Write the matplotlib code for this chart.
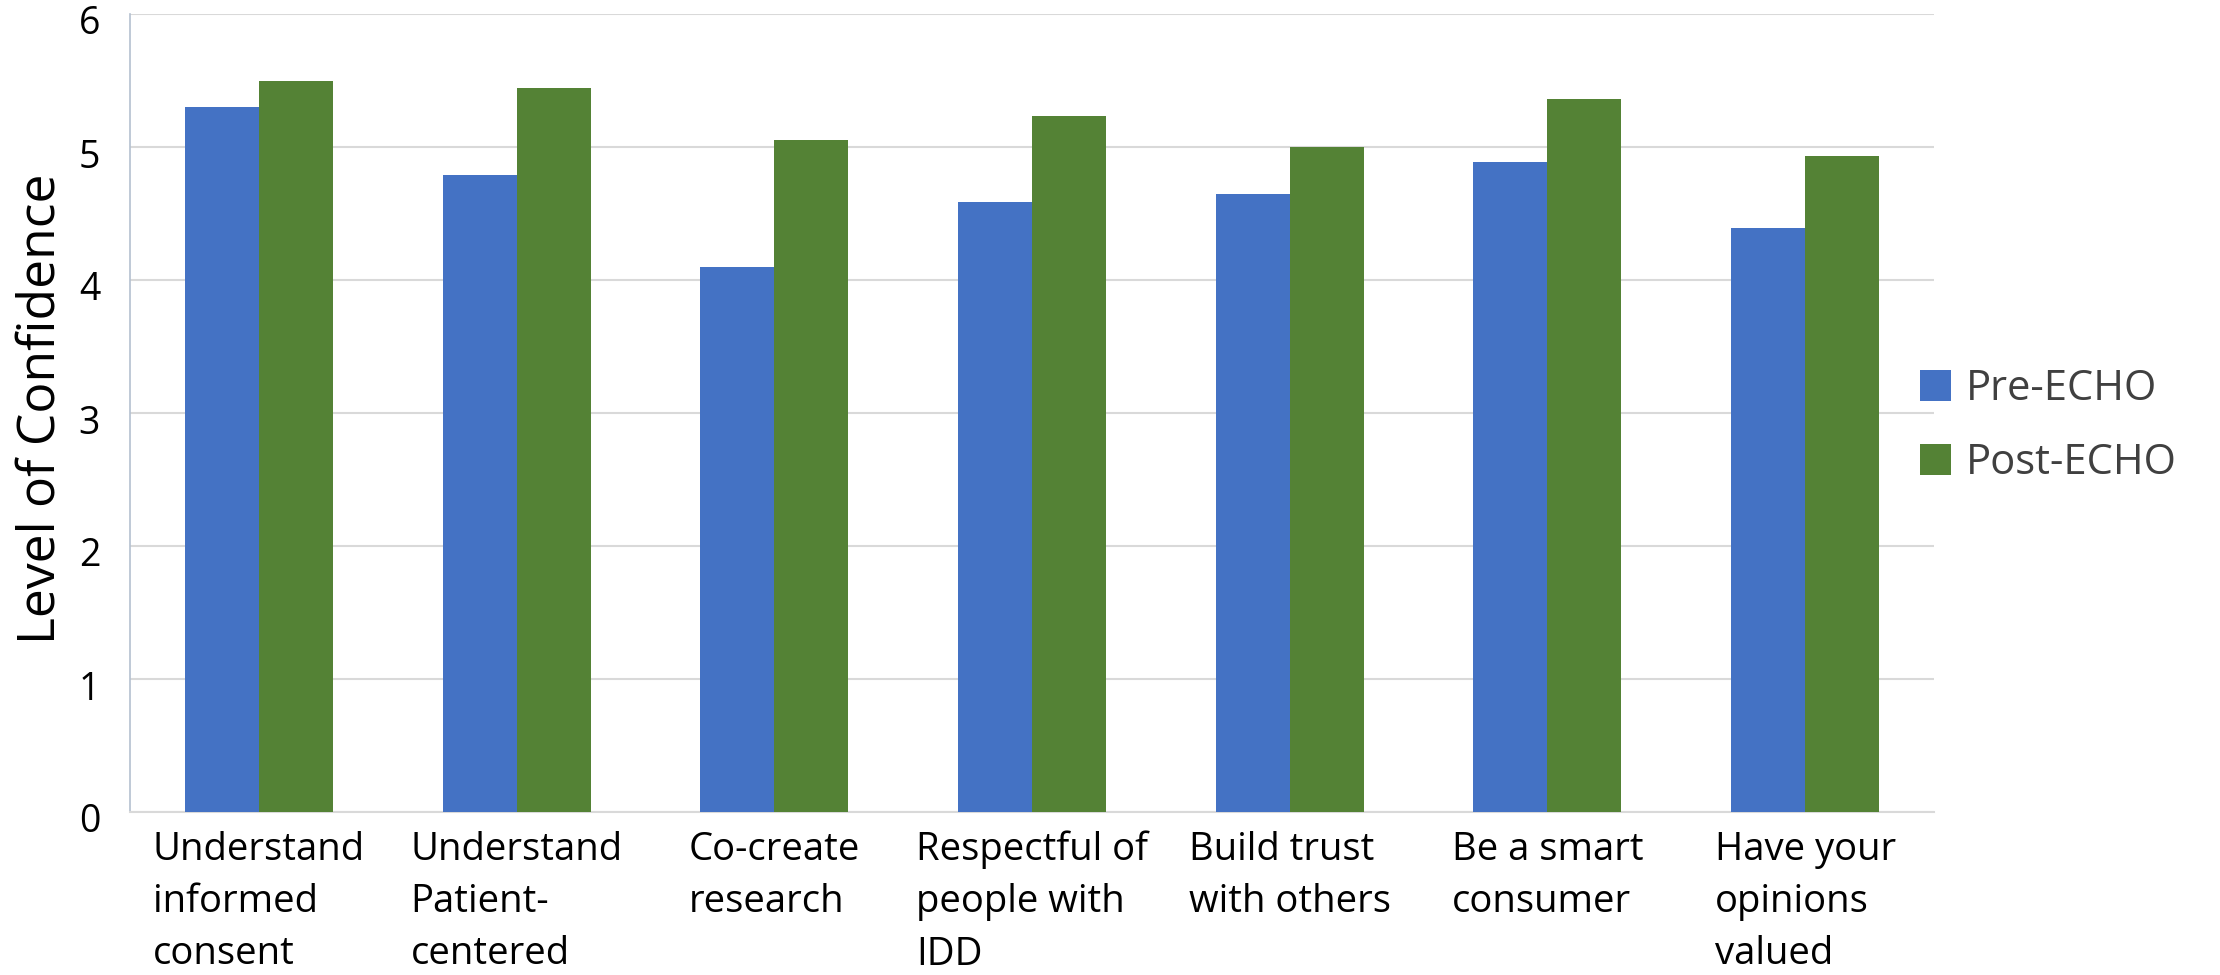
import matplotlib
matplotlib.use("Agg")
import matplotlib.pyplot as plt
import matplotlib.transforms as mtransforms
import numpy as np

categories = [
    "Understand\ninformed\nconsent",
    "Understand\nPatient-\ncentered",
    "Co-create\nresearch",
    "Respectful of\npeople with\nIDD",
    "Build trust\nwith others",
    "Be a smart\nconsumer",
    "Have your\nopinions\nvalued",
]
pre_echo = [5.30, 4.79, 4.10, 4.59, 4.65, 4.89, 4.39]
post_echo = [5.50, 5.44, 5.05, 5.23, 5.00, 5.36, 4.93]
series_names = ["Pre-ECHO", "Post-ECHO"]
yticks = [0, 1, 2, 3, 4, 5, 6]

plt.rcParams['font.family'] = ['Open Sans', 'DejaVu Sans']

fig = plt.figure(figsize=(22.2, 9.75), dpi=100)
ax = fig.add_axes([130/2220, 1-812/975, (1934-130)/2220, (812-14)/975])

x = np.arange(len(categories))
w = 0.287
ax.bar(x - w/2, pre_echo, width=w, color="#4472C4", label=series_names[0], zorder=3)
ax.bar(x + w/2, post_echo, width=w, color="#548235", label=series_names[1], zorder=3)

ax.set_xlim(-0.5, len(categories) - 0.5)
ax.set_ylim(0, 6)
ax.set_yticks(yticks)
ax.set_yticklabels([str(t) for t in yticks], fontsize=27, color="#000000")
ax.yaxis.grid(True, color="#D9D9D9", linewidth=1.5, zorder=0)
ax.set_axisbelow(True)
ax.tick_params(axis='y', length=0, pad=21.5)
ax.tick_params(axis='x', length=0)
ax.set_xticks(x)
ax.set_xticklabels([])
shift = mtransforms.ScaledTranslation(0, -6/100, fig.dpi_scale_trans)
for lbl in ax.get_yticklabels():
    lbl.set_transform(lbl.get_transform() + shift)

for s in ["top", "right"]:
    ax.spines[s].set_visible(False)
ax.spines["left"].set_color("#B4C0D0")
ax.spines["left"].set_linewidth(1.2)
ax.spines["bottom"].set_color("#D9D9D9")
ax.spines["bottom"].set_linewidth(1.5)

for i, lab in enumerate(categories):
    ax.text(i, -0.14, lab, transform=ax.transData, ha="center", va="top",
            multialignment="left", fontsize=27.5, color="#000000",
            linespacing=1.49, clip_on=False)

fig.text(41/2220, 1-409/975, "Level of Confidence", rotation=90,
         ha="center", va="center", fontsize=37.2, color="#000000")

leg = ax.legend(loc="center left", bbox_to_anchor=(1920/2220, 1-426/975),
                bbox_transform=fig.transFigure, frameon=False, fontsize=30,
                handlelength=0.74, handleheight=0.74, handletextpad=0.36,
                labelspacing=0.77, borderaxespad=0, borderpad=0)
for t in leg.get_texts():
    t.set_color("#404040")

fig.savefig("out.png", dpi=100)
